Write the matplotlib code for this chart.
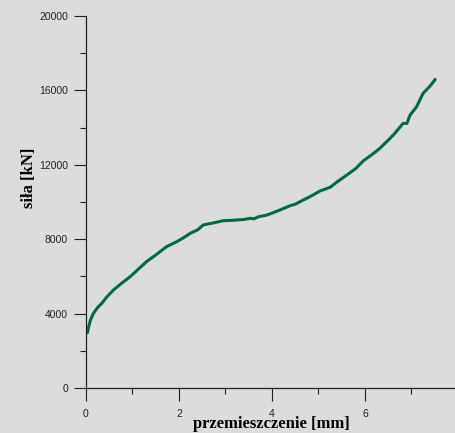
import numpy as np
import matplotlib
matplotlib.use("Agg")
from matplotlib import pyplot as plt
from matplotlib.ticker import MultipleLocator

# przemieszczenie [mm] vs sila [kN]
przemieszczenie = [0.03, 0.06, 0.10, 0.16, 0.25, 0.34, 0.45, 0.59, 0.75, 0.95,
                   1.10, 1.30, 1.50, 1.73, 1.95, 2.10, 2.24, 2.40, 2.52, 2.62,
                   2.75, 2.95, 3.10, 3.24, 3.40, 3.53, 3.62, 3.70, 3.89, 4.00,
                   4.17, 4.39, 4.50, 4.67, 4.85, 5.03, 5.25, 5.40, 5.61, 5.80,
                   5.96, 6.15, 6.32, 6.43, 6.61, 6.82, 6.90, 6.97, 7.11, 7.25,
                   7.40, 7.51]
sila = [2970, 3320, 3680, 4015, 4330, 4553, 4900, 5268, 5600, 5985,
        6330, 6790, 7150, 7596, 7865, 8080, 8313, 8500, 8763, 8820,
        8880, 8995, 9010, 9032, 9060, 9120, 9100, 9200, 9300, 9400,
        9570, 9802, 9880, 10107, 10330, 10590, 10790, 11080, 11451, 11800,
        12204, 12550, 12886, 13155, 13601, 14230, 14220, 14676, 15123, 15843,
        16235, 16595]

bg = '#dcdcdc'
W, H = 456, 433
fig = plt.figure(figsize=(W / 100, H / 100), dpi=100, facecolor=bg)
ax = fig.add_axes([86 / W, 1 - 388 / H, 372 / W, 372 / H], facecolor=bg)

ax.plot(przemieszczenie, sila, color='#006b3c', lw=2.2, solid_capstyle='round')

ax.set_xlim(0, 8)
ax.set_ylim(0, 20000)
ax.xaxis.set_major_locator(MultipleLocator(2))
ax.xaxis.set_minor_locator(MultipleLocator(1))
ax.yaxis.set_major_locator(MultipleLocator(4000))
ax.yaxis.set_minor_locator(MultipleLocator(2000))

for s in ['top', 'right']:
    ax.spines[s].set_visible(False)
for s in ['left', 'bottom']:
    ax.spines[s].set_linewidth(0.9)
    ax.spines[s].set_color('#222222')

ax.tick_params(which='major', direction='out', length=9, width=0.8,
               color='#222222', labelsize=7.5, labelcolor='#222222',
               labelfontfamily='Liberation Sans')
ax.tick_params(which='minor', direction='out', length=4.5, width=0.8, color='#222222')
ax.tick_params(axis='x', which='major', pad=6)
ax.tick_params(axis='y', which='major', pad=4)

fig.text(271 / W, 1 - 424 / H, 'przemieszczenie [mm]', ha='center', va='center',
         fontsize=12, fontweight='bold', family='Liberation Serif')
fig.text(29 / W, 1 - 178 / H, 'siła [kN]', ha='center', va='center', rotation=90,
         fontsize=12, fontweight='bold', family='Liberation Serif')

fig.savefig('out.png', dpi=100, facecolor=bg)
